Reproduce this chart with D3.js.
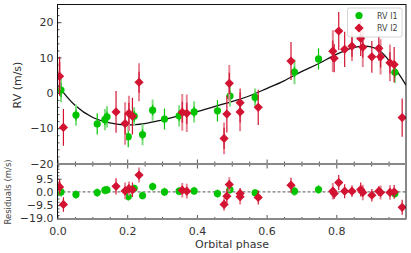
<!DOCTYPE html>
<html><head><meta charset="utf-8">
<script src="https://cdn.jsdelivr.net/npm/d3@7"></script>
<style>
body{margin:0;background:#fff;}
text{font-family:"DejaVu Sans",sans-serif;}
</style></head>
<body><svg id="c" width="411" height="253"></svg>
<script>
// ---- data ----
const g_phase = [0.010,0.053,0.114,0.136,0.142,0.203,0.220,0.244,0.273,0.307,0.349,0.392,0.459,0.495,0.567,0.680,0.749,0.968];
const g_rv    = [0.8,-6.3,-8.8,-7.6,-6.8,-12.4,-6.6,-11.8,-4.9,-7.4,-6.5,-5.4,-5.1,-0.9,-1.3,5.9,9.6,5.8];
const g_err   = [2,1.5,3,1.5,1.5,3,1.5,1.5,1.5,3,1.5,1.5,3,1.5,1.5,1.5,3,1.5];
const g_errJit= [3.5,3,0,3,3,0,2.5,3,3,0,3,3,0,3,2.5,3.5,0,3];
const g_res   = [0,-1.9,-0.5,1.2,1.5,-3.3,2.6,-2.6,3.8,0,0.5,0.7,-1.2,1.7,-0.7,0.5,1.7,-1.2];

const r_phase = [0.006,0.017,0.168,0.194,0.205,0.215,0.234,0.358,0.371,0.478,0.486,0.493,0.524,0.524,0.576,0.670,0.790,0.794,0.807,0.824,0.845,0.870,0.876,0.902,0.922,0.927,0.954,0.966,0.989];
const r_rv    = [4.7,-9.8,-5.4,-8.7,-5.8,-6.6,3.0,-5.5,-5.8,-12.9,-6.0,2.7,-2.8,-5.4,-4.1,9.0,11.8,9.8,17.5,12.3,13.2,15.4,12.9,10.2,12.6,10.2,8.5,8.0,-7.0];
const r_err   = [5.5,5.2,5.9,3,3,5.2,3,3,3,3,5.2,3,4,3,5,5.4,3,4,5.4,5,3,5,3,4.5,3.5,3,3,5,5.4];
const r_errJit= [4,0,0,6,5,0,5.4,5.2,5.3,4.5,0,5.2,0,5.5,0,0,5.9,0,0,0,4.2,0,5.6,0,0,5,5.2,0,0];
const r_res   = [3.6,-9,4,0.7,2.4,1.5,12.1,1.2,0.5,-9,-3.1,5.3,-1.2,-3.5,-4,4.8,0.5,-1.2,6.7,0.5,0.5,1.7,-0.4,-2.4,0.5,-0.4,-0.4,0,-11.1];

const m_phase = [0,0.05,0.1,0.15,0.2,0.25,0.3,0.35,0.4,0.45,0.5,0.55,0.6,0.65,0.7,0.75,0.8,0.85,0.875,0.9,0.925,0.95,0.975,1.0];
const m_rv    = [2.2,-3.5,-6.9,-8.5,-9.1,-8.7,-7.7,-6.5,-5.3,-3.9,-2.5,-0.9,1.2,3.4,6.0,8.3,10.9,12.8,13.2,13.0,11.9,9.3,6.0,2.2];

const yTicksTop = [-20,-10,0,10,20];
const yTicksRes = [-19,-9.5,0,9.5];
const xTicks = [0,0.2,0.4,0.6,0.8];
const seriesNames = ["RV I1","RV I2"];

// ---- colours ----
const GREEN="#00c400", GREEN_L="#7fde7f", RED="#d21332", RED_L="#e88594";

const svg = d3.select("#c");
const L=57.5, R=406, T1=4.5, B1=163.5, T2=164.5, B2=219;
const x = d3.scaleLinear().domain([0,1]).range([L,R]);
const y1 = d3.scaleLinear().domain([-20,25]).range([B1,T1]);
const y2 = d3.scaleLinear().domain([-19.5,19.7]).range([B2,T2]);

const diamond = (cx,cy,s)=>`M${cx},${cy-s}L${cx+s},${cy}L${cx},${cy+s}L${cx-s},${cy}Z`;

function drawAxes(y, top, bottom, yMajor, yMinorStep, yFmt, showXLabels){
  const g = svg.append("g");
  // x minor ticks
  const xMinor = d3.range(0,1.0001,0.05).filter(v=>Math.abs(v*5-Math.round(v*5))>1e-6);
  const ax = g.append("g").attr("transform",`translate(0,${bottom})`)
    .call(d3.axisBottom(x).tickValues(xTicks).tickSize(-4).tickFormat(showXLabels?d3.format(".1f"):""));
  ax.select(".domain").remove();
  ax.selectAll("text").attr("y",8).attr("font-size",11).attr("fill","#333");
  ax.selectAll("line").attr("stroke","#555");
  const axm = g.append("g").attr("transform",`translate(0,${bottom})`)
    .call(d3.axisBottom(x).tickValues(xMinor).tickSize(-2).tickFormat(""));
  axm.select(".domain").remove(); axm.selectAll("line").attr("stroke","#555");
  // y
  const ay = g.append("g").attr("transform",`translate(${L},0)`)
    .call(d3.axisLeft(y).tickValues(yMajor).tickSize(-4).tickFormat(yFmt));
  ay.select(".domain").remove();
  ay.selectAll("text").attr("x",-4).attr("font-size",11).attr("fill","#333");
  ay.selectAll("line").attr("stroke","#555");
  const d = y.domain();
  const minors = d3.range(Math.ceil(d[0]/yMinorStep)*yMinorStep, d[1]+1e-6, yMinorStep);
  const aym = g.append("g").attr("transform",`translate(${L},0)`)
    .call(d3.axisLeft(y).tickValues(minors).tickSize(-2).tickFormat(""));
  aym.select(".domain").remove(); aym.selectAll("line").attr("stroke","#555");
  return g;
}

// top panel axes
drawAxes(y1, T1, B1, yTicksTop, 2, d3.format("d"), false);
// residual panel axes
const gr = drawAxes(y2, T2, B2, yTicksRes, 2.375, d3.format(".1f"), true);
// top ticks on residual panel
const axTop = svg.append("g").attr("transform",`translate(0,${T2})`)
  .call(d3.axisTop(x).tickValues(xTicks).tickSize(-4).tickFormat(""));
axTop.select(".domain").remove(); axTop.selectAll("line").attr("stroke","#555");
const axTopM = svg.append("g").attr("transform",`translate(0,${T2})`)
  .call(d3.axisTop(x).tickValues(d3.range(0.05,1,0.05).filter(v=>Math.abs(v*5-Math.round(v*5))>1e-6)).tickSize(-2).tickFormat(""));
axTopM.select(".domain").remove(); axTopM.selectAll("line").attr("stroke","#555");

// zero line
svg.append("line").attr("x1",L).attr("x2",R).attr("y1",y2(0)).attr("y2",y2(0))
  .attr("stroke","#777").attr("stroke-width",1.2).attr("stroke-dasharray","3,2");

// clip paths
svg.append("clipPath").attr("id","cp1").append("rect").attr("x",L).attr("y",T1).attr("width",R-L).attr("height",B1-T1);
svg.append("clipPath").attr("id","cp2").append("rect").attr("x",L).attr("y",T2).attr("width",R-L).attr("height",B2-T2);

// model curve
svg.append("path").attr("clip-path","url(#cp1)")
  .datum(m_phase.map((p,i)=>[p,m_rv[i]]))
  .attr("d", d3.line().x(d=>x(d[0])).y(d=>y1(d[1])).curve(d3.curveCatmullRom))
  .attr("fill","none").attr("stroke","#111").attr("stroke-width",1.3);

function drawSeries(y, clip, phase, vals, err, errJ, col, colL, shape){
  const g = svg.append("g").attr("clip-path",`url(#${clip})`);
  const idx = d3.range(phase.length);
  g.selectAll(".lj").data(idx.filter(i=>errJ[i]>0)).join("line")
    .attr("x1",i=>x(phase[i])).attr("x2",i=>x(phase[i]))
    .attr("y1",i=>y(vals[i]-errJ[i])).attr("y2",i=>y(vals[i]+errJ[i]))
    .attr("stroke",colL).attr("stroke-width",2);
  g.selectAll(".le").data(idx.filter(i=>err[i]>0)).join("line")
    .attr("x1",i=>x(phase[i])).attr("x2",i=>x(phase[i]))
    .attr("y1",i=>y(vals[i]-err[i])).attr("y2",i=>y(vals[i]+err[i]))
    .attr("stroke",col).attr("stroke-width",1.2);
  if(shape==="circle"){
    g.selectAll("circle").data(idx).join("circle")
      .attr("cx",i=>x(phase[i])).attr("cy",i=>y(vals[i])).attr("r",3.6).attr("fill",col);
  } else {
    g.selectAll("path").data(idx).join("path")
      .attr("d",i=>diamond(x(phase[i]),y(vals[i]),4.6)).attr("fill",col);
  }
}
// top panel points
drawSeries(y1,"cp1",g_phase,g_rv,g_err,g_errJit,GREEN,GREEN_L,"circle");
drawSeries(y1,"cp1",r_phase,r_rv,r_err,r_errJit,RED,RED_L,"diamond");
// residuals
drawSeries(y2,"cp2",g_phase,g_res,g_err,g_errJit,GREEN,GREEN_L,"circle");
drawSeries(y2,"cp2",r_phase,r_res,r_err,r_errJit,RED,RED_L,"diamond");

// frames
svg.append("rect").attr("x",L).attr("y",T1).attr("width",R-L).attr("height",B1-T1)
  .attr("fill","none").attr("stroke","#111").attr("stroke-width",1);
svg.append("rect").attr("x",L).attr("y",T2).attr("width",R-L).attr("height",B2-T2)
  .attr("fill","none").attr("stroke","#111").attr("stroke-width",1);
svg.append("line").attr("x1",L).attr("x2",R).attr("y1",164).attr("y2",164).attr("stroke","#888").attr("stroke-width",2);
svg.append("line").attr("x1",L).attr("x2",R).attr("y1",B2).attr("y2",B2).attr("stroke","#888").attr("stroke-width",2);

// legend
const lg = svg.append("g");
lg.append("rect").attr("x",347.5).attr("y",8).attr("width",54.5).attr("height",29).attr("rx",2)
  .attr("fill","#fff").attr("fill-opacity",0.85).attr("stroke","#ccc").attr("stroke-width",0.8);
lg.append("circle").attr("cx",359).attr("cy",15.5).attr("r",3.6).attr("fill",GREEN);
lg.append("line").attr("x1",359).attr("x2",359).attr("y1",24).attr("y2",32).attr("stroke",RED).attr("stroke-width",1.2);
lg.append("path").attr("d",diamond(359,28,4.6)).attr("fill",RED);
lg.selectAll("text").data(seriesNames).join("text")
  .attr("x",377).attr("y",(d,i)=>18.5+i*12.5).attr("font-size",8).attr("fill","#444").text(d=>d);

// labels
svg.append("text").attr("transform","translate(21,85) rotate(-90)").attr("text-anchor","middle")
  .attr("font-size",11).attr("fill","#333").text("RV (m/s)");
svg.append("text").attr("transform","translate(10.5,192) rotate(-90)").attr("text-anchor","middle")
  .attr("font-size",8.5).attr("fill","#444").text("Residuals (m/s)");
svg.append("text").attr("x",232).attr("y",248).attr("text-anchor","middle")
  .attr("font-size",11).attr("fill","#333").text("Orbital phase");
</script></body></html>
